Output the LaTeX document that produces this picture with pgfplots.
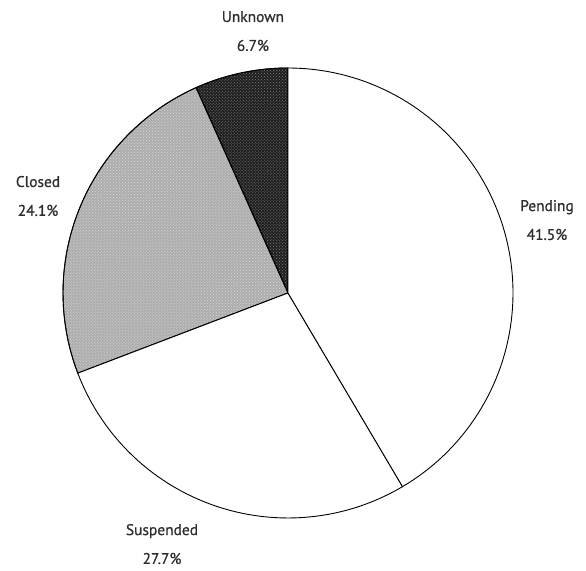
\documentclass[border=0pt]{standalone}
\usepackage{pgfplots}
\pgfplotsset{compat=1.18}
\usepackage{pgfplotstable}
\usepackage{fontspec}
\setmainfont{PT Sans}
\newfontfamily\lblfont{PT Sans}[FakeBold=0.7]
\usetikzlibrary{patterns}

% share of each slice, in percent, counter-clockwise from 12 o'clock
\pgfplotstableread{
name       pct
Unknown    6.7
Closed     24.1
Suspended  27.7
Pending    41.5
}\piedata

\begin{document}
\begin{tikzpicture}
\pgfplotstablegetelem{0}{pct}\of\piedata \let\pA\pgfplotsretval
\pgfplotstablegetelem{1}{pct}\of\piedata \let\pB\pgfplotsretval
\pgfplotstablegetelem{2}{pct}\of\piedata \let\pC\pgfplotsretval
\pgfplotstablegetelem{3}{pct}\of\piedata \let\pD\pgfplotsretval
\pgfmathsetmacro\aA{90}
\pgfmathsetmacro\aB{\aA+3.6*\pA}
\pgfmathsetmacro\aC{\aB+3.6*\pB}
\pgfmathsetmacro\aD{\aC+3.6*\pC}
\pgfmathsetmacro\aE{\aD+3.6*\pD}
\begin{axis}[
  scale only axis, width=586bp, height=571bp,
  xmin=-1.28, xmax=1.3244, ymin=-1.2356, ymax=1.3022,
  hide axis, clip=false,
]
\path (rel axis cs:0,0) (rel axis cs:1,1);
% Unknown
\addplot[draw=black, line width=0.9pt, fill=black!88,
  postaction={pattern=crosshatch dots, pattern color=black!50},
  domain=\aA:\aB, samples=20, variable=\t]
  ({cos(\t)},{sin(\t)}) -- (axis cs:0,0) -- cycle;
% Closed
\addplot[draw=black, line width=0.9pt, fill=black!32,
  postaction={pattern=crosshatch dots, pattern color=white!85!black},
  domain=\aB:\aC, samples=50, variable=\t]
  ({cos(\t)},{sin(\t)}) -- (axis cs:0,0) -- cycle;
% Suspended
\addplot[draw=black, line width=0.9pt, fill=white,
  domain=\aC:\aD, samples=60, variable=\t]
  ({cos(\t)},{sin(\t)}) -- (axis cs:0,0) -- cycle;
% Pending
\addplot[draw=black, line width=0.9pt, fill=white,
  domain=\aD:\aE, samples=90, variable=\t]
  ({cos(\t)},{sin(\t)}) -- (axis cs:0,0) -- cycle;

\begin{scope}[every node/.style={align=center, font=\lblfont\fontsize{15.5}{29}\selectfont, text=black!82}]
\node at (axis cs:-0.156,1.164) {Unknown\\6.7\%};
\node at (axis cs:-1.111,0.431) {Closed\\24.1\%};
\node at (axis cs:1.151,0.324) {Pending\\41.5\%};
\node at (axis cs:-0.56,-1.116) {Suspended\\27.7\%};
\end{scope}
\end{axis}
\end{tikzpicture}
\end{document}
